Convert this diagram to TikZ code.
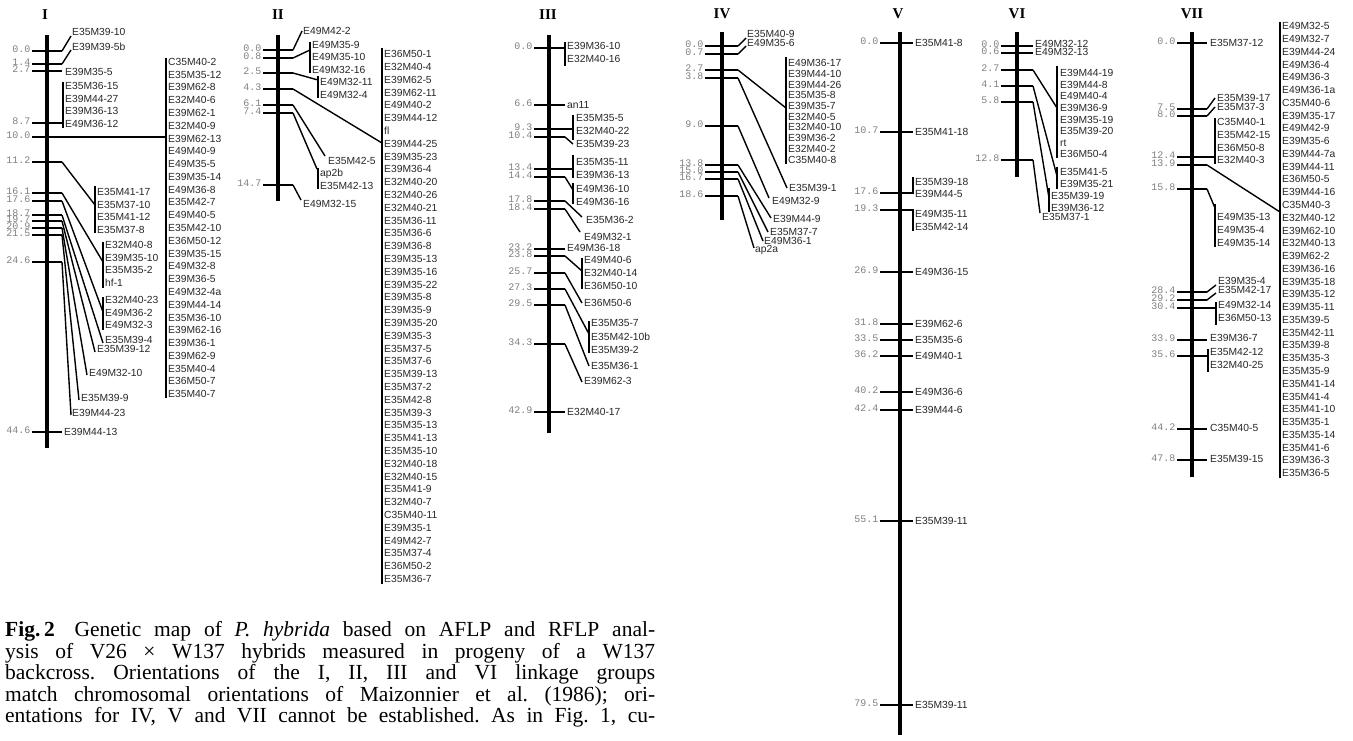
\documentclass[tikz,border=0pt]{standalone}
\usepackage{fontspec}
\setmainfont{Liberation Serif}
\newfontfamily\labff{Liberation Sans}
\newfontfamily\numff{Liberation Mono}
\newcounter{nd}
\newcommand\Lab[3]{\stepcounter{nd}\node[lab] (n\arabic{nd}) at ({#1},{#2}) {#3};}
\newcommand\Num[3]{\stepcounter{nd}\node[num] (n\arabic{nd}) at ({#1},{#2}) {#3};}
\newcommand\Col[4]{\foreach \ll [count=\kk from 0] in {#4} {\Lab{#1}{#2+\kk*#3}{\ll}}}
\newcommand\Tk[4]{\draw[tk] ({#1},{#3}) -- ({#2},{#3}); \Num{#1-1.5}{#3+1}{#4}}
\frenchspacing
\begin{document}
\begin{tikzpicture}[x=1pt,y=-1pt,
 ax/.style={line width=4pt},
 tk/.style={line width=2pt},
 cn/.style={line width=1.4pt},
 br/.style={line width=1.5pt},
 lab/.style={font=\labff\fontsize{10.3}{12}\selectfont, text=black!85, inner sep=0pt, anchor=west, text height=7.4pt, text depth=0pt},
 num/.style={font=\numff\fontsize{10}{12}\selectfont, text=black!50, inner sep=0pt, anchor=base east},
 ttl/.style={font=\fontsize{15}{18}\selectfont\bfseries, inner sep=0pt},
 captxt/.style={font=\fontsize{21.5}{22}\selectfont, inner sep=0pt, anchor=base west}]
\useasboundingbox (0,0) rectangle (1353,740);
% ---------------- I
\node[ttl] (tI) at (45,15) {I};
\draw[ax] (47,35) -- (47,448);
\Tk{32}{62}{51}{0.0}
\Tk{32}{62}{64}{1.4}
\Tk{32}{62}{71}{2.7}
\Tk{32}{63}{123}{8.7}
\Tk{32}{166}{137}{10.0}
\Tk{32}{62}{162}{11.2}
\Tk{32}{62}{193}{16.1}
\Tk{32}{62}{201}{17.6}
\Tk{32}{62}{215}{18.7}
\Tk{32}{62}{221}{19.7}
\Tk{32}{62}{228}{20.9}
\Tk{32}{62}{235}{21.5}
\Tk{32}{62}{262}{24.6}
\Tk{32}{62}{432}{44.6}
\draw[cn] (62,51)--(71,36); \Lab{72}{32}{E35M39-10}
\draw[cn] (62,64)--(71,50); \Lab{72}{47}{E39M39-5b}
\Lab{65}{72}{E39M35-5}
\draw[br] (63,82)--(63,128); \Col{65}{86}{12.5}{E35M36-15,E39M44-27,E39M36-13,E49M36-12}
\draw[br] (166,58)--(166,398);
\Col{168}{61.7}{12.78}{C35M40-2,E35M35-12,E39M62-8,E32M40-6,E39M62-1,E32M40-9,E39M62-13,E49M40-9,E49M35-5,E39M35-14,E49M36-8,E35M42-7,E49M40-5,E35M42-10,E36M50-12,E39M35-15,E49M32-8,E39M36-5,E49M32-4a,E39M44-14,E35M36-10,E39M62-16,E39M36-1,E39M62-9,E35M40-4,E36M50-7,E35M40-7}
\draw[cn] (62,162)--(95,205); \draw[br] (95,186)--(95,233); \Col{97}{192}{12.5}{E35M41-17,E35M37-10,E35M41-12,E35M37-8}
\draw[cn] (62,193)--(103,262); \draw[br] (103,242)--(103,288); \Col{105}{245}{12.6}{E32M40-8,E39M35-10,E35M35-2,hf-1}
\draw[cn] (62,201)--(103,312); \draw[br] (103,297)--(103,330); \Col{105}{300}{12.5}{E32M40-23,E49M36-2,E49M32-3}
\draw[cn] (62,215)--(103,343); \Lab{105}{340}{E35M39-4}
\draw[cn] (62,221)--(95,352); \Lab{97}{349}{E35M39-12}
\draw[cn] (62,228)--(87,375); \Lab{89}{373}{E49M32-10}
\draw[cn] (62,235)--(79,400); \Lab{81}{398}{E35M39-9}
\draw[cn] (62,262)--(71,415); \Lab{72}{413}{E39M44-23}
\Lab{64}{432}{E39M44-13}
% ---------------- II
\node[ttl] (tII) at (278,15) {II};
\draw[ax] (278,35)--(278,201);
\Tk{263}{293}{50}{0.0}
\Tk{263}{293}{58}{0.8}
\Tk{263}{293}{73}{2.5}
\Tk{263}{293}{89}{4.3}
\Tk{263}{293}{105}{6.1}
\Tk{263}{293}{113}{7.4}
\Tk{263}{293}{185}{14.7}
\draw[cn] (293,50)--(302,31); \Lab{303}{31}{E49M42-2}
\draw[cn] (293,58)--(310,50); \draw[br] (310,42)--(310,73); \Col{312}{44.5}{12.6}{E49M35-9,E49M35-10,E49M32-16}
\draw[cn] (293,73)--(318,80); \draw[br] (318,76)--(318,98); \Col{320}{82}{13}{E49M32-11,E49M32-4}
\draw[cn] (293,89)--(382,143);
\draw[cn] (293,105)--(325,156); \Lab{328}{161}{E35M42-5}
\draw[cn] (293,113)--(317,169); \draw[br] (318,168)--(318,189); \Col{320}{173}{12.6}{ap2b,E35M42-13}
\draw[cn] (293,185)--(301,200); \Lab{303}{204}{E49M32-15}
\draw[br] (382,48)--(382,584);
\Col{384}{54}{12.8}{E36M50-1,E32M40-4,E39M62-5,E39M62-11,E49M40-2,E39M44-12,fl,E39M44-25,E39M35-23,E39M36-4,E32M40-20,E32M40-26,E32M40-21,E35M36-11,E35M36-6,E39M36-8,E39M35-13,E39M35-16,E39M35-22,E39M35-8,E39M35-9,E39M35-20,E39M35-3,E35M37-5,E35M37-6,E35M39-13,E35M37-2,E35M42-8,E35M39-3,E35M35-13,E35M41-13,E35M35-10,E32M40-18,E32M40-15,E35M41-9,E32M40-7,C35M40-11,E39M35-1,E49M42-7,E35M37-4,E36M50-2,E35M36-7}
% ---------------- III
\node[ttl] (tIII) at (548,15) {III};
\draw[ax] (549,35)--(549,433);
\Tk{534}{565}{48}{0.0} \draw[br] (565,42)--(565,66); \Col{567}{46}{13}{E39M36-10,E32M40-16}
\Tk{534}{565}{105}{6.6} \Lab{567}{105}{an11}
\Tk{534}{573}{129}{9.3} \draw[br] (573,115)--(573,140); \Col{576}{118}{12.7}{E35M35-5,E32M40-22}
\Tk{534}{565}{137}{10.4} \draw[cn] (565,137)--(573,144); \Lab{576}{144}{E35M39-23}
\Tk{534}{573}{169}{13.4} \draw[br] (573,155)--(573,178); \Col{576}{162}{12.7}{E35M35-11,E39M36-13}
\Tk{534}{565}{177}{14.4} \draw[cn] (565,177)--(573,190); \draw[br] (573,183)--(573,204); \Col{576}{189}{12.7}{E49M36-10,E49M36-16}
\Tk{534}{565}{201}{17.8} \draw[cn] (565,201)--(582,217); \Lab{586}{220}{E35M36-2}
\Tk{534}{565}{209}{18.4} \draw[cn] (565,209)--(580,232); \Lab{584}{237}{E49M32-1}
\Tk{534}{565}{249}{23.2} \Lab{567}{248}{E49M36-18}
\Tk{534}{565}{256}{23.8} \draw[cn] (565,256)--(582,271); \draw[br] (582,258)--(582,289); \Col{584}{260}{13}{E49M40-6,E32M40-14,E36M50-10}
\Tk{534}{565}{273}{25.7} \draw[cn] (565,273)--(582,303); \Lab{584}{303}{E36M50-6}
\Tk{534}{565}{289}{27.3} \draw[cn] (565,289)--(589,334); \draw[br] (589,321)--(589,353); \Col{591}{323}{13.5}{E35M35-7,E35M42-10b,E35M39-2}
\Tk{534}{565}{305}{29.5} \draw[cn] (565,305)--(589,366); \Lab{591}{366}{E35M36-1}
\Tk{534}{565}{344}{34.3} \draw[cn] (565,344)--(582,382); \Lab{584}{381}{E39M62-3}
\Tk{534}{565}{412}{42.9} \Lab{567}{412}{E32M40-17}
% ---------------- IV
\node[ttl] (tIV) at (722,14) {IV};
\draw[ax] (722,32)--(722,220);
\Tk{705}{738}{46}{0.0} \draw[cn] (738,46)--(746,38); \Lab{747}{34}{E35M40-9}
\Tk{705}{738}{54}{0.7} \draw[cn] (738,54)--(746,46); \Lab{747}{43}{E49M35-6}
\Tk{705}{738}{70}{2.7} \draw[cn] (738,70)--(786,108); \draw[br] (786,57)--(786,164);
\Col{788}{63}{10.7}{E49M36-17,E39M44-10,E39M44-26,E35M35-8,E39M35-7,E32M40-5,E32M40-10,E39M36-2,E32M40-2,C35M40-8}
\Tk{705}{738}{78}{3.8} \draw[cn] (738,78)--(787,188); \Lab{789}{188}{E35M39-1}
\Tk{705}{738}{126}{9.0} \draw[cn] (738,126)--(769,198); \Lab{772}{201}{E49M32-9}
\Tk{705}{738}{165}{13.8} \draw[cn] (738,165)--(771,218); \Lab{773}{219}{E39M44-9}
\Tk{705}{738}{172}{15.0} \draw[cn] (738,172)--(768,232); \Lab{770}{232}{E35M37-7}
\Tk{705}{738}{179}{16.7} \draw[cn] (738,179)--(763,241); \Lab{764}{241}{E49M36-1}
\Tk{705}{738}{196}{18.6} \draw[cn] (738,196)--(754,248); \Lab{755}{249}{ap2a}
% ---------------- V
\node[ttl] (tV) at (898,14) {V};
\draw[ax] (900,32)--(900,735);
\foreach \yy/\nn/\mm in {43/0.0/E35M41-8, 132/10.7/E35M41-18, 272/26.9/E49M36-15, 324/31.8/E39M62-6, 340/33.5/E35M35-6, 356/36.2/E49M40-1, 392/40.2/E49M36-6, 410/42.4/E39M44-6, 521/55.1/E35M39-11, 705/79.5/E35M39-11}
 {\Tk{880}{913}{\yy}{\nn} \Lab{915}{\yy}{\mm}}
\Tk{880}{913}{193}{17.6} \draw[br] (913,177)--(913,194); \Col{915}{182}{12}{E35M39-18,E39M44-5}
\Tk{880}{913}{210}{19.3} \draw[br] (913,209)--(913,231); \Col{915}{214}{12.5}{E49M35-11,E35M42-14}
% ---------------- VI
\node[ttl] (tVI) at (1017,14) {VI};
\draw[ax] (1017,32)--(1017,177);
\Tk{1001}{1033}{46}{0.0} \Lab{1035}{44}{E49M32-12}
\Tk{1001}{1033}{53}{0.6} \Lab{1035}{52}{E49M32-13}
\Tk{1001}{1033}{70}{2.7} \draw[cn] (1033,70)--(1057,108); \draw[br] (1057,66)--(1057,158);
\Col{1060}{73}{11.6}{E39M44-19,E39M44-8,E49M40-4,E39M36-9,E39M35-19,E35M39-20,rt,E36M50-4}
\Tk{1001}{1033}{86}{4.1} \draw[cn] (1033,86)--(1057,176); \draw[br] (1057,167)--(1057,189); \Col{1060}{172}{12}{E35M41-5,E39M35-21}
\Tk{1001}{1033}{102}{5.8} \draw[cn] (1033,102)--(1049,198); \draw[br] (1049,188)--(1049,212); \Col{1051}{196}{12}{E35M39-19,E39M36-12}
\Tk{1001}{1033}{160}{12.8} \draw[cn] (1033,160)--(1040,213); \Lab{1042}{217}{E35M37-1}
% ---------------- VII
\node[ttl] (tVII) at (1192,14) {VII};
\draw[ax] (1192,32)--(1192,477);
\Tk{1177}{1207}{43}{0.0} \Lab{1210}{43}{E35M37-12}
\Tk{1177}{1207}{109}{7.5} \draw[cn] (1207,109)--(1215,98); \Lab{1217}{98}{E35M39-17}
\Tk{1177}{1207}{116}{8.0} \draw[cn] (1207,116)--(1215,107); \Lab{1217}{107}{E35M37-3}
\Tk{1177}{1215}{157}{12.4} \draw[br] (1215,118)--(1215,164); \Col{1217}{122}{12.7}{C35M40-1,E35M42-15,E36M50-8,E32M40-3}
\Tk{1177}{1207}{165}{13.9} \draw[cn] (1207,165)--(1280,212);
\Tk{1177}{1207}{189}{15.8} \draw[cn] (1207,189)--(1215,208); \draw[br] (1215,204)--(1215,247); \Col{1217}{217}{13}{E49M35-13,E49M35-4,E49M35-14}
\Tk{1177}{1207}{292}{28.4} \draw[cn] (1207,292)--(1216,285); \Lab{1218}{281}{E39M35-4}
\Tk{1177}{1207}{300}{29.2} \draw[cn] (1207,300)--(1216,293); \Lab{1218}{290}{E35M42-17}
\Tk{1177}{1216}{308}{30.4} \draw[br] (1216,302)--(1216,325); \Col{1218}{305}{12.5}{E49M32-14,E36M50-13}
\Tk{1177}{1207}{340}{33.9} \Lab{1210}{338}{E39M36-7}
\Tk{1177}{1208}{356}{35.6} \draw[br] (1208,349)--(1208,372); \Col{1210}{352}{13}{E35M42-12,E32M40-25}
\Tk{1177}{1207}{429}{44.2} \Lab{1210}{428}{C35M40-5}
\Tk{1177}{1207}{460}{47.8} \Lab{1210}{459}{E35M39-15}
\draw[br] (1280,22)--(1280,478);
\Col{1282}{26}{12.77}{E49M32-5,E49M32-7,E39M44-24,E49M36-4,E49M36-3,E49M36-1a,C35M40-6,E39M35-17,E49M42-9,E39M35-6,E39M44-7a,E39M44-11,E36M50-5,E39M44-16,C35M40-3,E32M40-12,E39M62-10,E32M40-13,E39M62-2,E39M36-16,E39M35-18,E39M35-12,E39M35-11,E35M39-5,E35M42-11,E35M39-8,E35M35-3,E35M35-9,E35M41-14,E35M41-4,E35M41-10,E35M35-1,E35M35-14,E35M41-6,E39M36-3,E35M36-5}
% ---------------- caption
\node[captxt] (c1) at (5,636.5) {\makebox[650pt][s]{\textbf{Fig.\,2}\hspace{7pt} Genetic map of \textit{P. hybrida} based on AFLP and RFLP anal-}};
\node[captxt] (c2) at (5,658) {\makebox[650pt][s]{ysis of V26 × W137 hybrids measured in progeny of a W137}};
\node[captxt] (c3) at (5,679.5) {\makebox[650pt][s]{backcross. Orientations of the I, II, III and VI linkage groups}};
\node[captxt] (c4) at (5,701) {\makebox[650pt][s]{match chromosomal orientations of Maizonnier et al. (1986); ori-}};
\node[captxt] (c5) at (5,722.5) {\makebox[650pt][s]{entations for IV, V and VII cannot be established. As in Fig. 1, cu-}};
\end{tikzpicture}
\end{document}
